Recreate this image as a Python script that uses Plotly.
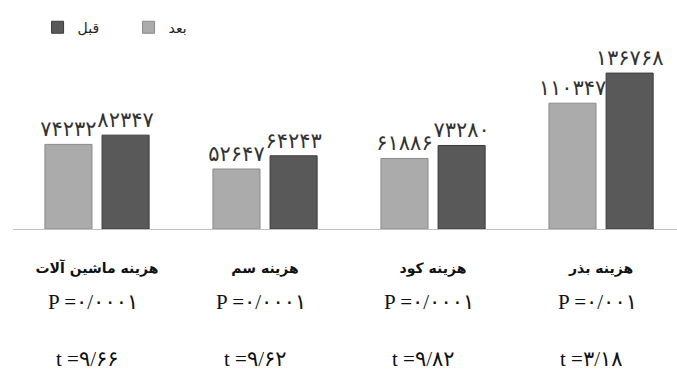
import plotly.graph_objects as go

# Cost categories and the two survey rounds
categories = ["هزینه ماشین آلات", "هزینه سم", "هزینه کود", "هزینه بذر"]
after_values = [74232, 52647, 61886, 110347]    # بعد
before_values = [82347, 64243, 73280, 136768]   # قبل
p_labels = ["P =۰/۰۰۰۱", "P =۰/۰۰۰۱", "P =۰/۰۰۰۱", "P =۰/۰۰۱"]
t_labels = ["t =۹/۶۶", "t =۹/۶۲", "t =۹/۸۲", "t =۳/۱۸"]

FA_DIGITS = str.maketrans("0123456789", "۰۱۲۳۴۵۶۷۸۹")


def to_fa(v):
    return str(v).translate(FA_DIGITS)


label_font = dict(family="DejaVu Sans", size=21, color="#333333")
stat_font = dict(family="Liberation Serif, DejaVu Sans", size=21, color="#111")

fig = go.Figure()
fig.add_trace(go.Bar(
    name="بعد", x=categories, y=after_values,
    text=[to_fa(v) for v in after_values], textposition="outside",
    textfont=label_font, constraintext="none", cliponaxis=False,
    marker=dict(color="#ababab", line=dict(color="#8a8a8a", width=1)),
))
fig.add_trace(go.Bar(
    name="قبل", x=categories, y=before_values,
    text=[to_fa(v) for v in before_values], textposition="outside",
    textfont=label_font, constraintext="none", cliponaxis=False,
    marker=dict(color="#595959", line=dict(color="#3c3c3c", width=1)),
))

# P and t statistics under each category
for cat, p, t in zip(categories, p_labels, t_labels):
    fig.add_annotation(x=cat, y=-0.386, xref="x", yref="paper", text=p,
                       showarrow=False, xshift=-4, yanchor="middle",
                       font=stat_font)
    fig.add_annotation(x=cat, y=-0.69, xref="x", yref="paper", text=t,
                       showarrow=False, xshift=-10, yanchor="middle",
                       font=stat_font)

fig.update_layout(
    width=677, height=374,
    margin=dict(l=13, r=0, t=40, b=145),
    paper_bgcolor="white", plot_bgcolor="white",
    barmode="group", bargap=0.32, bargroupgap=0.176,
    showlegend=True,
    legend=dict(orientation="h", x=0.037, xanchor="left", y=1.15, yanchor="top",
                traceorder="reversed", entrywidth=46,
                font=dict(family="DejaVu Sans", size=14, color="#222")),
    xaxis=dict(type="category", range=[-0.5, 3.452], showline=True,
               linecolor="#c0c0c0", linewidth=1, showgrid=False, ticks="",
               ticklabelstandoff=26,
               tickfont=dict(family="DejaVu Sans", size=14, color="#111",
                             weight="bold")),
    yaxis=dict(range=[0, 165800], visible=False, showgrid=False),
)

fig.write_html("out.html")
